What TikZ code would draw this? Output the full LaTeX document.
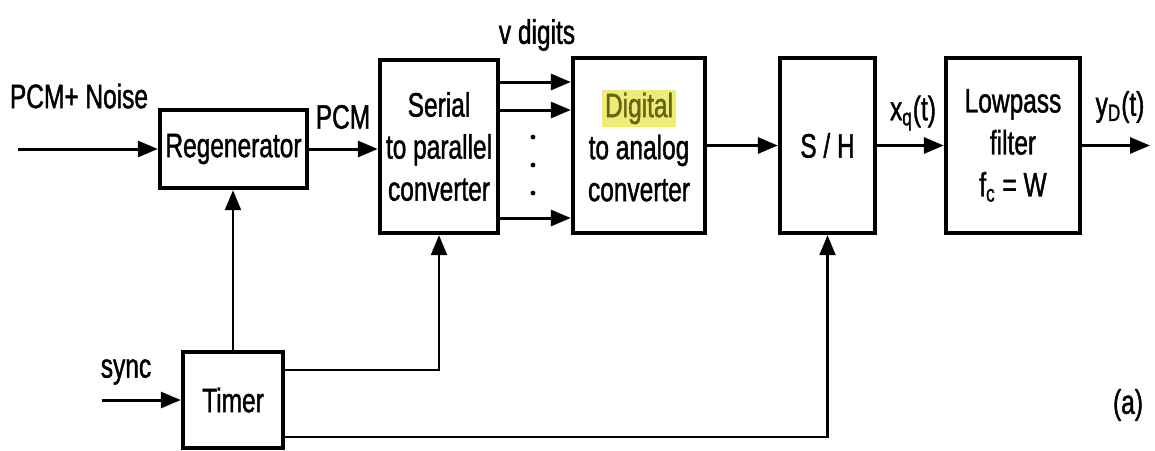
\documentclass[tikz,border=0pt]{standalone}
\usepackage{fontspec}
\setmainfont{Liberation Sans}[FakeStretch=0.72, FakeBold=1.2]
\usepackage{tikz}
\usetikzlibrary{arrows.meta}
\usepackage{xcolor}
\definecolor{hlyellow}{RGB}{238, 236, 120}
\definecolor{hltext}{RGB}{100, 100, 20}

\tikzset{
    blk/.style={draw, line width=2.2pt, inner sep=0pt, align=center, font=\fontsize{17}{21}\selectfont},
    sig/.style={->, line width=1.5pt},
    clk/.style={->, line width=1.1pt},
    lbl/.style={font=\fontsize{17}{20}\selectfont},
}

\begin{document}
\begin{tikzpicture}[x=0.5pt, y=-0.5pt, >={Triangle[length=10pt, width=8pt]}]
    \useasboundingbox (0,0) rectangle (1155,450);
    \node[blk, minimum width=73.5pt, minimum height=39pt] (regen) at (233.5,149) {Regenerator};
    \node[blk, minimum width=59pt, minimum height=86.5pt] (serial) at (439,146.5) {Serial\\to parallel\\converter};
    \node[blk, minimum width=66pt, minimum height=87.5pt] (dac) at (639,145.5)
      {{\setlength\fboxsep{1.5pt}\colorbox{hlyellow}{\color{hltext}Digital}}\\to analog\\converter};
    \node[blk, minimum width=47.5pt, minimum height=87.5pt] (sh) at (827.5,145.5) {S / H};
    \node[blk, minimum width=67pt, minimum height=87.5pt] (lpf) at (1013,145.5) {Lowpass\\filter\\f\textsubscript{c} = W};
    \node[blk, minimum width=50pt, minimum height=48pt] (timer) at (233,400) {Timer};

    \node[lbl] (pcmn) at (79,96) {PCM+ Noise};
    \node[lbl] (pcm) at (343,117) {PCM};
    \node[lbl] (vdig) at (537,35) {v digits};
    \node[lbl] (xq) at (913,113) {x\textsubscript{q}(t)};
    \node[lbl] (yd) at (1120,107) {y\textsubscript{D}(t)};
    \node[lbl] (sync) at (126,372) {sync};
    \node[lbl] (fig) at (1128,405) {(a)};

    \coordinate (in) at (18,149);
    \coordinate (out) at (1150,145.5);
    \coordinate (syncin) at (102,400);

    \draw[sig] (in) -- (regen.west);
    \draw[sig] (regen.east) -- (regen.east -| serial.west);
    \foreach \y in {82,110,218}
      \draw[sig] (serial.east |- 0,\y) -- (dac.west |- 0,\y);
    \foreach \y in {137,165,193}
      \fill (533,\y) circle (1.2pt);
    \draw[sig] (dac) -- (sh);
    \draw[sig] (sh) -- (lpf);
    \draw[sig] (lpf) -- (out);

    \draw[sig] (syncin) -- (timer.west);
    \draw[clk] (timer.north) -- (timer.north |- regen.south);
    \draw[clk] (timer.east |- 0,370) -| (serial.south);
    \draw[clk] (timer.east |- 0,437) -| (sh.south);
\end{tikzpicture}
\end{document}
